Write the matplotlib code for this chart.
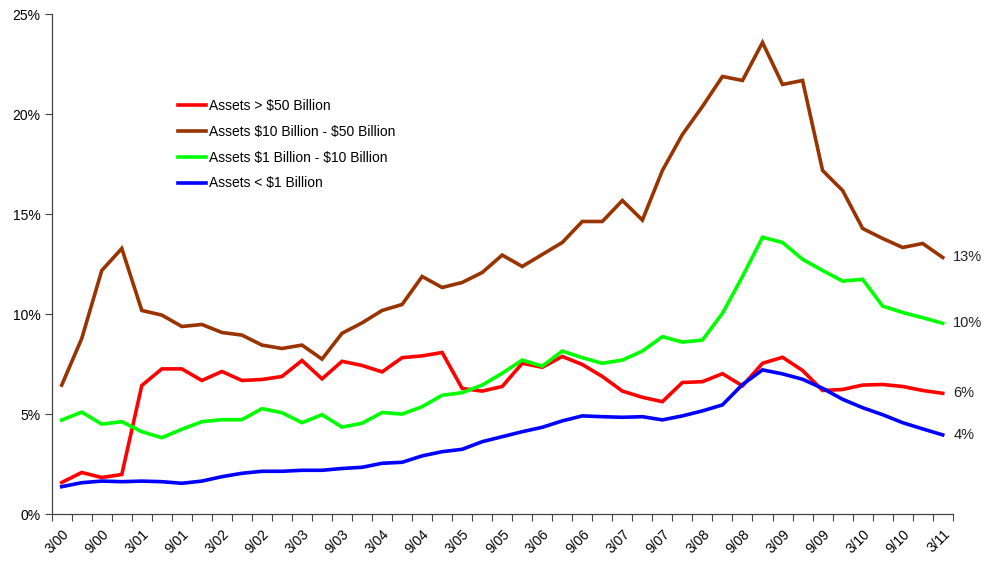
import numpy as np
import matplotlib
matplotlib.use("Agg")
import matplotlib.pyplot as plt
from matplotlib.ticker import FuncFormatter

plt.rcParams['font.family'] = ['Liberation Sans', 'DejaVu Sans']

# quarters 3/00 .. 3/11
quarters = []
for yr in range(0, 12):
    for m in (3, 6, 9, 12):
        quarters.append(f"{m}/{yr:02d}")
quarters = quarters[:45]

over_50b = [1.6, 2.1, 1.85, 2.0, 6.45, 7.28, 7.28, 6.7, 7.15, 6.7,
            6.75, 6.9, 7.7, 6.78, 7.66, 7.45, 7.13, 7.84, 7.93, 8.1,
            6.3, 6.17, 6.4, 7.56, 7.36, 7.9, 7.5, 6.9, 6.17, 5.86,
            5.64, 6.6, 6.64, 7.04, 6.43, 7.56, 7.86, 7.2, 6.2, 6.25,
            6.47, 6.5, 6.4, 6.2, 6.06]
b10_50 = [6.47, 8.8, 12.2, 13.3, 10.2, 9.97, 9.4, 9.5, 9.1, 8.97,
          8.47, 8.3, 8.47, 7.77, 9.06, 9.58, 10.2, 10.5, 11.9, 11.35,
          11.6, 12.1, 12.97, 12.4, 13.0, 13.6, 14.65, 14.65, 15.7, 14.72,
          17.2, 19.0, 20.4, 21.9, 21.7, 23.6, 21.5, 21.7, 17.2, 16.2,
          14.3, 13.8, 13.35, 13.55, 12.85]
b1_10 = [4.72, 5.12, 4.52, 4.64, 4.14, 3.84, 4.26, 4.64, 4.74, 4.74,
         5.29, 5.09, 4.59, 4.99, 4.37, 4.56, 5.1, 5.02, 5.39, 5.96,
         6.09, 6.47, 7.06, 7.72, 7.42, 8.17, 7.84, 7.56, 7.72, 8.17,
         8.89, 8.62, 8.72, 10.06, 11.9, 13.86, 13.6, 12.76, 12.2, 11.67,
         11.76, 10.42, 10.1, 9.84, 9.56]
under_1b = [1.39, 1.59, 1.67, 1.64, 1.67, 1.64, 1.56, 1.67, 1.89, 2.06,
            2.16, 2.16, 2.21, 2.21, 2.3, 2.36, 2.56, 2.61, 2.93, 3.14,
            3.26, 3.64, 3.89, 4.14, 4.36, 4.68, 4.93, 4.89, 4.86, 4.89,
            4.73, 4.93, 5.18, 5.48, 6.5, 7.23, 7.03, 6.76, 6.31, 5.76,
            5.34, 4.99, 4.59, 4.28, 3.98]

series = [
    ("Assets > \\$50 Billion", over_50b, "#FF0000"),
    ("Assets \\$10 Billion - \\$50 Billion", b10_50, "#993300"),
    ("Assets \\$1 Billion - \\$10 Billion", b1_10, "#00FF00"),
    ("Assets < \\$1 Billion", under_1b, "#0000FF"),
]

fig = plt.figure(figsize=(9.83, 5.61), dpi=100)
ax = fig.add_axes([0.0526, 0.0829, 0.9166, 0.8913])

x = np.arange(len(quarters))
for name, vals, col in series:
    ax.plot(x, vals, color=col, lw=2.6, label=name, solid_joinstyle='miter')

# end labels
for name, vals, col in series:
    ax.annotate(f"{vals[-1]:.0f}%", xy=(x[-1], vals[-1]), xytext=(7.5, 0),
                textcoords='offset points', va='center', ha='left', fontsize=10.5,
                color='#222222', annotation_clip=False)

ax.set_xlim(-0.5, len(quarters) - 0.5)
ax.set_ylim(0, 25)
ax.set_yticks(range(0, 26, 5))
ax.yaxis.set_major_formatter(FuncFormatter(lambda v, p: f"{v:.0f}%"))

ax.set_xticks(x[::2])
ax.set_xticklabels(quarters[::2], rotation=45, ha='right', rotation_mode='anchor')
ax.set_xticks(np.arange(-0.5, len(quarters)), minor=True)
ax.tick_params(axis='x', which='major', length=0, pad=9, labelsize=10)
ax.tick_params(axis='x', which='minor', length=5, width=0.8, color='#444444', direction='out')
ax.tick_params(axis='y', length=5, width=0.8, color='#444444', labelsize=10, pad=3)

for s in ('top', 'right'):
    ax.spines[s].set_visible(False)
for s in ('left', 'bottom'):
    ax.spines[s].set_color('#444444')
    ax.spines[s].set_linewidth(0.9)

ax.legend(loc='upper left', bbox_to_anchor=(0.134, 0.842), frameon=False,
          fontsize=10, handlelength=2.0, handletextpad=0.2, labelspacing=0.85,
          borderaxespad=0)

fig.savefig("out.png", dpi=100)
